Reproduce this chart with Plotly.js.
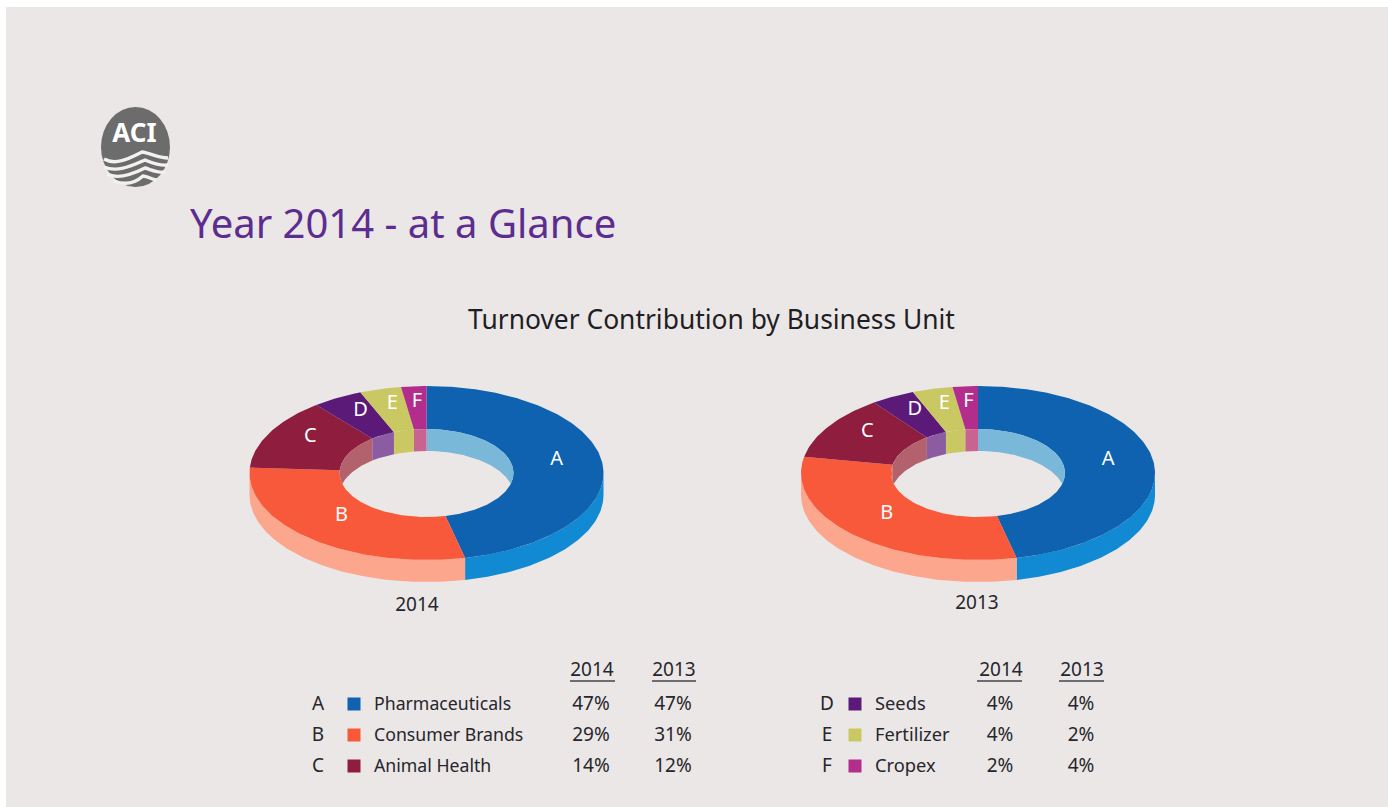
<!DOCTYPE html>
<html><head><meta charset="utf-8">
<script src="https://cdn.plot.ly/plotly-3.0.1.min.js"></script>
<style>html,body{margin:0;padding:0;background:#fff;overflow:hidden}#c{width:1388px;height:807px}</style>
</head><body><div id="c"></div>
<script>
// ---- data ----
const letters = ['A','B','C','D','E','F'];
const units = ['Pharmaceuticals','Consumer Brands','Animal Health','Seeds','Fertilizer','Cropex'];
const table2014 = [47,29,14,4,4,2];
const table2013 = [47,31,12,4,2,4];
// wedge sizes as measured on the rings (the 2013 ring draws E wider than F, unlike its table)
const slices2014 = [46.5,29.5,13.3,4.6,3.8,2.3];
const slices2013 = [46.5,31.5,12,4,3.7,2.3];
const yearLabels = ['2014','2013'];
// ---- styles ----
const topColors  = ['#0e62b0','#f8593a','#8e1d3e','#5b1a78','#c9c862','#b32d8d'];
const sideColors = ['#1189d3','#fda68e','#8e1d3e','#5b1a78','#c9c862','#b32d8d'];
const wallColors = ['#79b8d8','#f8593a','#b3616c','#8c5ca3','#c9c862','#c8648f'];
const FONT = 'Noto Sans, sans-serif', INK = '#26262c';
const G = {rx:177, ry:87, irx:87, iry:44, cy:473, depth:22};
const centers = [426.5, 978];

const rad = d => d*Math.PI/180;
const traces = [];
function poly(xs, ys, color, name){
  traces.push({type:'scatter',mode:'lines',x:xs,y:ys,fill:'toself',fillcolor:color,
    line:{width:0,color:color},hoverinfo:'skip',showlegend:false,name:name});
}
function arcAngles(a,b){const o=[];const n=Math.max(2,Math.ceil((b-a)));for(let i=0;i<=n;i++)o.push(a+(b-a)*i/n);return o;}
function drawRing(vals,cx,year){
  const total = vals.reduce((s,v)=>s+v,0);
  let acc=0;
  const spans = vals.map(v=>{const s=[acc/total*360,(acc+v)/total*360];acc+=v;return s;});
  // outer side wall (front half only)
  spans.forEach((s,i)=>{
    const a=Math.max(s[0],90), b=Math.min(s[1],270);
    if(b<=a) return;
    const t=arcAngles(a,b);
    const xs=t.map(d=>cx+G.rx*Math.sin(rad(d)));
    const ys=t.map(d=>G.cy-G.ry*Math.cos(rad(d)));
    poly(xs.concat(xs.slice().reverse()),ys.concat(ys.slice().reverse().map(y=>y+G.depth)),sideColors[i],year+' side '+letters[i]);
  });
  // top faces
  spans.forEach((s,i)=>{
    const t=arcAngles(s[0],s[1]), r=t.slice().reverse();
    poly(t.map(d=>cx+G.rx*Math.sin(rad(d))).concat(r.map(d=>cx+G.irx*Math.sin(rad(d)))),
         t.map(d=>G.cy-G.ry*Math.cos(rad(d))).concat(r.map(d=>G.cy-G.iry*Math.cos(rad(d)))),
         topColors[i],year+' '+units[i]);
  });
  // inner wall (back half of the hole)
  const wall=(a,b,i)=>{
    if(b<=a) return;
    const t=arcAngles(a,b), r=t.slice().reverse();
    const low=d=>Math.min(G.cy-G.iry*Math.cos(rad(d))+G.depth,G.cy+G.iry*Math.cos(rad(d)));
    poly(t.map(d=>cx+G.irx*Math.sin(rad(d))).concat(r.map(d=>cx+G.irx*Math.sin(rad(d)))),
         t.map(d=>G.cy-G.iry*Math.cos(rad(d))).concat(r.map(low)),wallColors[i],year+' wall '+letters[i]);
  };
  spans.forEach((s,i)=>{wall(s[0],Math.min(s[1],90),i);wall(Math.max(s[0],270),s[1],i);});
  // wedge letters
  const lx=[],ly=[];
  spans.forEach(s=>{
    const m=(s[0]+s[1])/2;
    lx.push(cx+0.74*G.rx*Math.sin(rad(m)));
    ly.push(G.cy-0.746*G.ry*Math.cos(rad(m))-6);
  });
  texts(lx,ly,letters,20,'#ffffff','middle center');
}
function texts(x,y,text,size,color,pos){
  traces.push({type:'scatter',mode:'text',x:x,y:y,text:text,textposition:pos,
    textfont:{family:FONT,size:size,color:color},hoverinfo:'skip',showlegend:false,cliponaxis:false});
}
drawRing(slices2014,centers[0],yearLabels[0]);
drawRing(slices2013,centers[1],yearLabels[1]);

texts([190],[228],['Year 2014 - at a Glance'],40,'#5c2d91','middle right');
texts([711.5],[322],['Turnover Contribution by Business Unit'],26.4,'#1e1e24','middle center');
texts([417,977],[606,604],yearLabels,19,INK,'middle center');

// table
const NUM=19;
const rows=[705.5,736.5,767.5];
const col=[{l:318,s:354,n:374,a:591,b:673,ns:17.7},{l:827,s:855,n:875,a:1000,b:1081,ns:18.3}];
[0,1].forEach(k=>{
  const c=col[k], idx=k===0?[0,1,2]:[3,4,5];
  texts([c.a+1,c.b+1],[671.5,671.5],yearLabels,NUM,INK,'middle center');
  texts(idx.map(()=>c.l),rows,idx.map(i=>letters[i]),NUM,INK,'middle center');
  traces.push({type:'scatter',mode:'markers',x:idx.map(()=>c.s),y:rows.map(r=>r-1.5),
    marker:{symbol:'square',size:13,color:idx.map(i=>topColors[i]),line:{width:0}},hoverinfo:'skip',showlegend:false});
  texts(idx.map(()=>c.n),rows,idx.map(i=>units[i]),c.ns,INK,'middle right');
  texts(idx.map(()=>c.a),rows,idx.map(i=>table2014[i]+'%'),NUM,INK,'middle center');
  texts(idx.map(()=>c.b),rows,idx.map(i=>table2013[i]+'%'),NUM,INK,'middle center');
});

const rule=(x0,x1)=>({type:'line',layer:'above',x0:x0,x1:x1,y0:681,y1:681,line:{color:'#44444a',width:1.5}});
const waves=[
 'M104,159 C116,166 130,158 142,152 C150,153 158,158 168,158',
 'M104,167 C118,173 133,165 145,160 C152,163 160,166 168,165',
 'M107,174 C118,180 133,174 145,168 C152,170 158,173 165,172',
 'M114,181 C124,185 134,184 143,176 C150,177 153,180 157,180'
];
const shapes=[
 {type:'rect',layer:'below',x0:6,x1:1388,y0:7,y1:807,fillcolor:'#ebe7e6',line:{width:0}},
 {type:'circle',layer:'below',x0:101,x1:170,y0:107,y1:187,fillcolor:'#6c6c6c',line:{width:0}},
 rule(570,615),rule(652,696),rule(977,1022),rule(1059,1104)
].concat(waves.map(p=>({type:'path',layer:'below',path:p,line:{color:'#f3f1f0',width:3.4}})));
texts([134.5],[135],['<b>ACI</b>'],26,'#ffffff','middle center');

Plotly.newPlot('c',traces,{
  width:1388,height:807,margin:{l:0,r:0,t:0,b:0},
  paper_bgcolor:'#ffffff',plot_bgcolor:'rgba(0,0,0,0)',showlegend:false,
  xaxis:{range:[0,1388],visible:false,fixedrange:true},
  yaxis:{range:[807,0],visible:false,fixedrange:true},
  shapes:shapes
},{displayModeBar:false,staticPlot:true});
</script></body></html>
